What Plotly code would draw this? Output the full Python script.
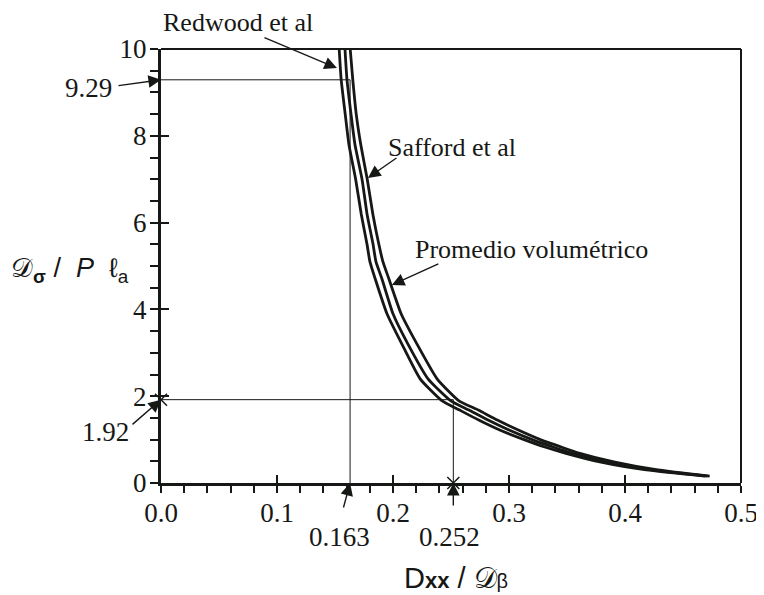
import plotly.graph_objects as go

# ---- data ----
y_vals = [10, 9.3, 8.5, 7.8, 7.0, 6.2, 5.5, 5.1, 4.7, 3.9, 3.2, 2.4, 1.9, 1.68, 1.45, 1.22, 1.0, 0.83, 0.69, 0.48, 0.30, 0.16]
x_redwood = [0.1536, 0.1553, 0.1588, 0.1620, 0.1678, 0.1726, 0.1776, 0.1801, 0.1847, 0.1948, 0.2077, 0.2234,
             0.2420, 0.2575, 0.2739, 0.2920, 0.3130, 0.3309, 0.3483, 0.3793, 0.4183, 0.4690]
x_safford = [0.1586, 0.1603, 0.1638, 0.1672, 0.1733, 0.1776, 0.1828, 0.1853, 0.1905, 0.2000, 0.2129, 0.2302,
             0.2495, 0.2655, 0.2819, 0.3000, 0.3200, 0.3379, 0.3543, 0.3853, 0.4233, 0.4710]
x_promedio = [0.1631, 0.1653, 0.1683, 0.1722, 0.1778, 0.1826, 0.1878, 0.1913, 0.1965, 0.2070, 0.2207, 0.2380,
              0.2565, 0.2735, 0.2899, 0.3080, 0.3270, 0.3449, 0.3603, 0.3913, 0.4283, 0.4730]

marked_x = [0.163, 0.252]
marked_y = [9.29, 1.92]
x_tick_vals = [0.0, 0.1, 0.2, 0.3, 0.4, 0.5]
x_tick_text = ["0.0", "0.1", "0.2", "0.3", "0.4", "0.5"]
y_tick_vals = [0, 2, 4, 6, 8, 10]
y_tick_text = ["0", "2", "4", "6", "8", "10"]

INK = "#161816"
SERIF = "Liberation Serif"
SANS = "Liberation Sans"
TICK_SIZE = 27
LABEL_SIZE = 26

fig = go.Figure()

# guide lines
for mx, my in zip(marked_x, marked_y):
    fig.add_trace(go.Scatter(x=[0, mx, mx], y=[my, my, 0], mode="lines",
                             line=dict(color=INK, width=1), hoverinfo="skip", showlegend=False))

# x markers on axes for 1.92 / 0.252
fig.add_trace(go.Scatter(x=[0, marked_x[1]], y=[marked_y[1], 0], mode="markers",
                         marker=dict(symbol="x-thin", size=12, line=dict(color=INK, width=1.5)),
                         cliponaxis=False, hoverinfo="skip", showlegend=False))

# three curves
for name, xs in [("Redwood et al", x_redwood), ("Safford et al", x_safford),
                 ("Promedio volumétrico", x_promedio)]:
    fig.add_trace(go.Scatter(x=xs, y=y_vals, mode="lines", name=name,
                             line=dict(color=INK, width=2.8, shape="spline", smoothing=0.5),
                             showlegend=False))

# dummy trace for overlay axes (inner major ticks)
fig.add_trace(go.Scatter(x=[None], y=[None], xaxis="x2", yaxis="y2", showlegend=False))

axis_common = dict(showgrid=False, zeroline=False, color=INK)

fig.update_layout(
    width=764, height=595,
    margin=dict(l=153, r=31, t=41, b=120),
    plot_bgcolor="white", paper_bgcolor="white",
    font=dict(family=SERIF, size=TICK_SIZE, color=INK),
    xaxis=dict(range=[0, 0.5], tickvals=x_tick_vals, ticktext=x_tick_text,
               ticks="outside", ticklen=7, tickwidth=2, tickcolor=INK,
               showline=True, linewidth=3, linecolor=INK, ticklabelstandoff=-3,
               minor=dict(dtick=0.02, tick0=0, ticks="outside", ticklen=7, tickwidth=2, tickcolor=INK),
               tickfont=dict(family=SERIF, size=TICK_SIZE), **axis_common),
    yaxis=dict(range=[0, 10], tickvals=y_tick_vals, ticktext=y_tick_text,
               ticks="outside", ticklen=8, tickwidth=2, tickcolor=INK,
               showline=True, linewidth=3, linecolor=INK, ticklabelstandoff=-2,
               minor=dict(dtick=0.5, tick0=0, ticks="outside", ticklen=8, tickwidth=2, tickcolor=INK),
               tickfont=dict(family=SERIF, size=TICK_SIZE), **axis_common),
    xaxis2=dict(range=[0, 0.5], overlaying="x", anchor="y", side="bottom", tickvals=x_tick_vals,
                ticks="inside", ticklen=8, tickwidth=2, tickcolor=INK, showticklabels=False,
                showline=False, **axis_common),
    yaxis2=dict(range=[0, 10], overlaying="y", anchor="x", side="left", tickvals=y_tick_vals,
                ticks="inside", ticklen=8, tickwidth=2, tickcolor=INK, showticklabels=False,
                showline=False, **axis_common),
)

# frame top & right
fig.add_shape(type="line", xref="paper", yref="paper", x0=0, x1=1, y0=1, y1=1,
              line=dict(color=INK, width=2))
fig.add_shape(type="line", xref="paper", yref="paper", x0=1, x1=1, y0=0, y1=1,
              line=dict(color=INK, width=2))

arrow_style = dict(showarrow=True, arrowhead=2, arrowsize=1.8, arrowwidth=1.4,
                   arrowcolor=INK, text="", standoff=0)

# arrows (tip in data coords, tail as pixel offset)
arrows = [
    (0.1517, 9.56, -74, -31),      # Redwood
    (0.1784, 7.03, 30, -21),       # Safford
    (0.1990, 4.56, 48, -22),       # Promedio
    (0.0, marked_y[0], -44, 6),    # 9.29
    (0.0, marked_y[1], -30, 26),   # 1.92
    (marked_x[0], 0, -7, 26),      # 0.163
    (marked_x[1], 0, 0, 24),       # 0.252
]
for x, y, ax, ay in arrows:
    fig.add_annotation(x=x, y=y, ax=ax, ay=ay, xref="x", yref="y", **arrow_style)

# text labels
labels = [
    ("Redwood et al", 0.1328, 1.060),
    ("Safford et al", 0.502, 0.774),
    ("Promedio volumétrico", 0.638, 0.537),
]
for t, px, py in labels:
    fig.add_annotation(text=t, x=px, y=py, xref="paper", yref="paper", showarrow=False,
                       xanchor="center", yanchor="middle",
                       font=dict(family=SERIF, size=LABEL_SIZE, color=INK))

num_labels = [
    ("9.29", 0, marked_y[0], -73, -8),
    ("1.92", 0, marked_y[1], -56, -32),
    ("0.163", marked_x[0], 0, -11, -54),
    ("0.252", marked_x[1], 0, -4, -54),
]
for t, x, y, xs, ys in num_labels:
    fig.add_annotation(text=t, x=x, y=y, xref="x", yref="y", showarrow=False,
                       xanchor="center", yanchor="middle", xshift=xs, yshift=ys,
                       font=dict(family=SERIF, size=TICK_SIZE, color=INK))

# axis titles
fig.add_annotation(text="D<span style='font-size:22px'><b>xx</b></span> / 𝒟<span style='font-size:20px'>β</span>",
                   x=0.5086, y=-0.219, xref="paper", yref="paper", showarrow=False,
                   xanchor="center", yanchor="middle",
                   font=dict(family=SANS, size=29, color=INK))
fig.add_annotation(text="𝒟<sub><b>σ</b></sub> /  <i>P</i>  ℓ<sub>a</sub>",
                   x=-0.157, y=0.491, xref="paper", yref="paper", showarrow=False,
                   xanchor="center", yanchor="middle",
                   font=dict(family=SANS, size=27, color=INK))

fig.write_html("out.html")
